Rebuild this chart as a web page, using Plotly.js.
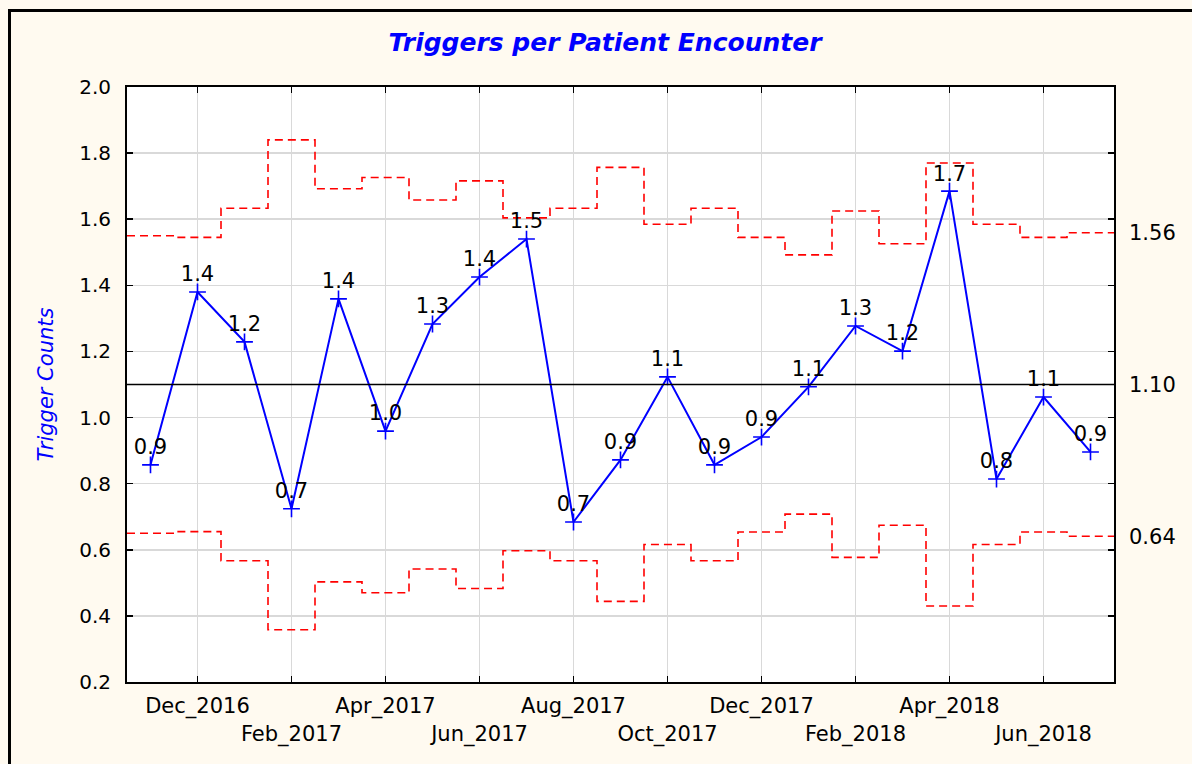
<!DOCTYPE html>
<html>
<head>
<meta charset="utf-8">
<script src="https://cdn.plot.ly/plotly-3.0.1.min.js"></script>
<style>
  html, body { margin: 0; padding: 0; background: #fffaf0; }
  #chart { width: 1192px; height: 764px; }
</style>
</head>
<body>
<div id="chart"></div>
<script>
// ---- Data ----
const months = ['Nov_2016','Dec_2016','Jan_2017','Feb_2017','Mar_2017','Apr_2017','May_2017',
  'Jun_2017','Jul_2017','Aug_2017','Sep_2017','Oct_2017','Nov_2017','Dec_2017',
  'Jan_2018','Feb_2018','Mar_2018','Apr_2018','May_2018','Jun_2018','Jul_2018'];
const triggerRate = [0.857, 1.380, 1.229, 0.724, 1.359, 0.959, 1.283, 1.425, 1.540, 0.684,
  0.872, 1.123, 0.857, 0.941, 1.093, 1.277, 1.201, 1.685, 0.814, 1.062, 0.896];
const ucl = [1.550, 1.545, 1.633, 1.840, 1.692, 1.726, 1.658, 1.716, 1.604, 1.633,
  1.757, 1.585, 1.633, 1.545, 1.492, 1.625, 1.526, 1.770, 1.585, 1.545, 1.559];
const lcl = [0.650, 0.655, 0.567, 0.358, 0.503, 0.470, 0.542, 0.483, 0.597, 0.567,
  0.444, 0.616, 0.567, 0.654, 0.708, 0.577, 0.674, 0.430, 0.616, 0.654, 0.641];
const centerLine = 1.10;
const tickMonths = ['Dec_2016','Feb_2017','Apr_2017','Jun_2017','Aug_2017','Oct_2017',
  'Dec_2017','Feb_2018','Apr_2018','Jun_2018'];
const limitValues = [1.56, 1.10, 0.64];
const limitLabels = ['1.56', '1.10', '0.64'];

// ---- Build traces ----
const idx = months.map((m, i) => i);
const edges = months.map((m, i) => i - 0.5).concat([months.length - 0.5]);
const stepY = arr => arr.concat([arr[arr.length - 1]]);

const font = 'DejaVu Sans, Arial, sans-serif';

const traces = [
  {
    x: edges, y: stepY(ucl), type: 'scatter', mode: 'lines',
    line: { shape: 'hv', color: '#ff0000', width: 1.6, dash: '8px,5px' },
    hoverinfo: 'skip', showlegend: false
  },
  {
    x: edges, y: stepY(lcl), type: 'scatter', mode: 'lines',
    line: { shape: 'hv', color: '#ff0000', width: 1.6, dash: '8px,5px' },
    hoverinfo: 'skip', showlegend: false
  },
  {
    x: [edges[0], edges[edges.length - 1]], y: [centerLine, centerLine],
    type: 'scatter', mode: 'lines', yaxis: 'y2',
    line: { color: '#000000', width: 1.6 },
    hoverinfo: 'skip', showlegend: false
  },
  {
    x: idx, y: triggerRate, type: 'scatter', mode: 'lines+markers',
    line: { color: '#0000ff', width: 2 },
    marker: { symbol: 'cross-thin', size: 12, color: '#0000ff', line: { color: '#0000ff', width: 1.6 } },
    showlegend: false
  },
  {
    x: idx, y: triggerRate, type: 'scatter', mode: 'markers+text',
    text: triggerRate.map(v => v.toFixed(1)),
    textposition: 'top center',
    textfont: { family: font, size: 21, color: '#000000' },
    marker: { size: 7, color: 'rgba(0,0,0,0)' },
    hoverinfo: 'skip', showlegend: false, cliponaxis: false
  }
];

const tickVals = tickMonths.map(m => months.indexOf(m));
const tickText = tickMonths.map((m, i) => (i % 2 === 0 ? m : '<br>' + m));

const W = 1192, H = 764;
const L = 127, R = 1114, T = 87, B = 682;
const px = x => (x - L) / (R - L);
const py = y => (B - y) / (B - T);

const layout = {
  width: W, height: H,
  margin: { l: L, r: W - R, t: T, b: H - B, pad: 0, autoexpand: false },
  paper_bgcolor: '#fffaf0',
  plot_bgcolor: '#ffffff',
  font: { family: font, color: '#000000', size: 20 },
  title: {
    text: '<b><i>Triggers per Patient Encounter</i></b>',
    font: { family: font, size: 25, color: '#0000ff' },
    xref: 'paper', x: px(605), xanchor: 'center',
    yref: 'container', y: 1 - 42 / H, yanchor: 'middle'
  },
  xaxis: {
    range: [-0.5, months.length - 0.5],
    tickmode: 'array', tickvals: tickVals, ticktext: tickText,
    tickangle: 0, automargin: false,
    tickfont: { family: font, size: 21, color: '#000000' },
    showgrid: true, gridcolor: '#d9d9d9', gridwidth: 1.5,
    zeroline: false,
    ticks: 'inside', ticklen: 6, tickwidth: 1.5, tickcolor: '#000000',
    showline: true, linecolor: '#000000', linewidth: 2, mirror: 'ticks',
    ticklabelstandoff: 4,
    fixedrange: true
  },
  yaxis: {
    range: [0.2, 2.0], dtick: 0.2, tick0: 0.2, tickformat: '.1f',
    automargin: false,
    tickfont: { family: font, size: 20, color: '#000000' },
    title: { text: '<i>Trigger Counts</i>', font: { family: font, size: 21, color: '#0000ff' }, standoff: 20 },
    showgrid: true, gridcolor: '#d9d9d9', gridwidth: 1.5,
    zeroline: false,
    ticks: 'inside', ticklen: 6, tickwidth: 1.5, tickcolor: '#000000',
    showline: true, linecolor: '#000000', linewidth: 2, mirror: 'ticks',
    ticklabelstandoff: 10,
    fixedrange: true
  },
  yaxis2: {
    overlaying: 'y', side: 'right', anchor: 'x',
    range: [0.2, 2.0], automargin: false,
    tickmode: 'array', tickvals: limitValues, ticktext: limitLabels,
    tickfont: { family: font, size: 21, color: '#000000' },
    showgrid: false, zeroline: false, showline: false,
    ticks: '', ticklabelstandoff: 14,
    fixedrange: true
  },
  shapes: [
    {
      type: 'rect', xref: 'paper', yref: 'paper',
      x0: px(9.5), x1: px(1240), y0: py(800), y1: py(10.5),
      line: { color: '#000000', width: 3 }, fillcolor: 'rgba(0,0,0,0)', layer: 'above'
    }
  ]
};

Plotly.newPlot('chart', traces, layout, { displayModeBar: false, staticPlot: true });
</script>
</body>
</html>
